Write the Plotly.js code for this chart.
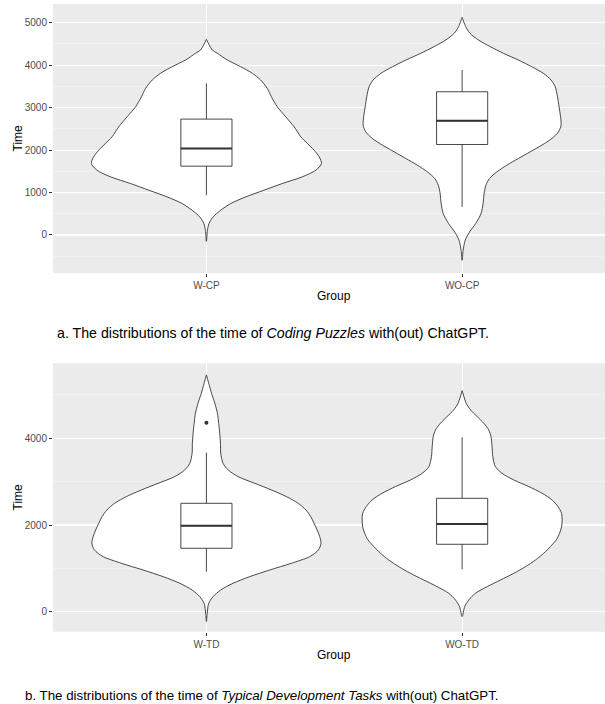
<!DOCTYPE html>
<html>
<head>
<meta charset="utf-8">
<script src="https://cdn.plot.ly/plotly-3.0.1.min.js"></script>
<style>html,body{margin:0;padding:0;background:#fff;}#chart{width:605px;height:704px;}</style>
</head>
<body>
<div id="chart"></div>
<script>
// ---------- DATA ----------
const groupsTop = ["W-CP", "WO-CP"];
const groupsBottom = ["W-TD", "WO-TD"];

// Violin outlines: time values and scaled density (half-width in category units)
const wcpTime = [-150, 111, 268, 425, 583, 740, 897, 1054, 1212, 1369, 1526, 1683, 1840, 1998, 2155, 2312, 2548, 2784, 3020, 3255, 3452, 3649, 3806, 3963, 4120, 4278, 4356, 4608];
const wcpDensity = [0, 0.004, 0.010, 0.026, 0.056, 0.095, 0.154, 0.225, 0.297, 0.375, 0.428, 0.450, 0.441, 0.421, 0.395, 0.369, 0.343, 0.310, 0.277, 0.254, 0.238, 0.212, 0.180, 0.134, 0.082, 0.043, 0.023, 0];

const wocpTime = [-597, -361, -125, 71, 268, 504, 740, 976, 1172, 1329, 1487, 1644, 1801, 1958, 2116, 2273, 2430, 2587, 2784, 3020, 3255, 3491, 3649, 3806, 3963, 4120, 4278, 4435, 4592, 4749, 4906, 5127];
const wocpDensity = [0, 0.004, 0.012, 0.029, 0.053, 0.074, 0.082, 0.086, 0.093, 0.107, 0.136, 0.175, 0.220, 0.266, 0.312, 0.351, 0.377, 0.387, 0.385, 0.379, 0.373, 0.364, 0.348, 0.318, 0.272, 0.220, 0.162, 0.110, 0.064, 0.031, 0.014, 0];

const wtdTime = [-230, -38, 193, 347, 501, 655, 808, 962, 1116, 1270, 1424, 1578, 1732, 1886, 2039, 2193, 2347, 2501, 2655, 2809, 2962, 3116, 3270, 3424, 3655, 3886, 4117, 4347, 4578, 4809, 5040, 5270, 5463];
const wtdDensity = [0, 0.003, 0.009, 0.026, 0.056, 0.104, 0.169, 0.248, 0.332, 0.404, 0.438, 0.448, 0.443, 0.433, 0.421, 0.408, 0.389, 0.359, 0.313, 0.254, 0.189, 0.124, 0.085, 0.065, 0.056, 0.055, 0.052, 0.048, 0.043, 0.033, 0.020, 0.009, 0];

const wotdTime = [-115, 116, 270, 424, 578, 731, 885, 1039, 1193, 1347, 1501, 1655, 1808, 1962, 2116, 2270, 2424, 2578, 2732, 2886, 3039, 3193, 3347, 3578, 3809, 4040, 4193, 4347, 4501, 4655, 4808, 5100];
const wotdDensity = [0, 0.010, 0.026, 0.052, 0.098, 0.150, 0.202, 0.248, 0.287, 0.319, 0.345, 0.368, 0.381, 0.389, 0.391, 0.389, 0.375, 0.352, 0.313, 0.261, 0.202, 0.156, 0.130, 0.120, 0.117, 0.113, 0.104, 0.085, 0.059, 0.033, 0.016, 0];

// Box plot statistics [group1, group2]
const topLower = [936, 661];
const topQ1 = [1620, 2131];
const topMedian = [2037, 2689];
const topQ3 = [2729, 3373];
const topUpper = [3570, 3884];

const bottomLower = [923, 978];
const bottomQ1 = [1463, 1555];
const bottomMedian = [1985, 2024];
const bottomQ3 = [2501, 2616];
const bottomUpper = [3670, 4025];

const bottomOutlierGroup = [1];
const bottomOutlierTime = [4362];

// Tick values
const topTicks = [0, 1000, 2000, 3000, 4000, 5000];
const bottomTicks = [0, 2000, 4000];

const captionA = "a. The distributions of the time of <i>Coding Puzzles</i> with(out) ChatGPT.";
const captionB = "b. The distributions of the time of <i>Typical Development Tasks</i> with(out) ChatGPT.";

// ---------- STYLE ----------
const W = 605, H = 704;
const FONT = "Liberation Sans, Arial, sans-serif";
const LINE = "#333333";
const BOXW = 0.2;

function violin(pos, times, dens, xa, ya) {
  const xs = [], ys = [];
  for (let i = 0; i < times.length; i++) { xs.push(pos + dens[i]); ys.push(times[i]); }
  for (let i = times.length - 1; i >= 0; i--) { xs.push(pos - dens[i]); ys.push(times[i]); }
  return {type: "scatter", mode: "lines", x: xs, y: ys, xaxis: xa, yaxis: ya,
    fill: "toself", fillcolor: "#ffffff",
    line: {color: LINE, width: 0.9, shape: "spline", smoothing: 0.8},
    hoverinfo: "skip", showlegend: false};
}

function boxes(lower, q1, med, q3, upper, xa, ya) {
  const out = [];
  for (let i = 0; i < med.length; i++) {
    const pos = i + 1;
    out.push({type: "box", orientation: "v", x: [pos], q1: [q1[i]], median: [med[i]], q3: [q3[i]],
      lowerfence: [lower[i]], upperfence: [upper[i]], width: BOXW, whiskerwidth: 0,
      fillcolor: "#ffffff", line: {color: LINE, width: 0.9}, boxpoints: false,
      xaxis: xa, yaxis: ya, hoverinfo: "skip", showlegend: false});
    out.push({type: "scatter", mode: "lines", x: [pos - BOXW / 2, pos + BOXW / 2], y: [med[i], med[i]],
      line: {color: LINE, width: 2}, xaxis: xa, yaxis: ya, hoverinfo: "skip", showlegend: false});
  }
  return out;
}

const traces = [
  violin(1, wcpTime, wcpDensity, "x", "y"),
  violin(2, wocpTime, wocpDensity, "x", "y"),
  violin(1, wtdTime, wtdDensity, "x2", "y2"),
  violin(2, wotdTime, wotdDensity, "x2", "y2"),
  // boxes on overlay axes so they are drawn above the violins
  ...boxes(topLower, topQ1, topMedian, topQ3, topUpper, "x3", "y3"),
  ...boxes(bottomLower, bottomQ1, bottomMedian, bottomQ3, bottomUpper, "x4", "y4"),
  {type: "scatter", mode: "markers", x: bottomOutlierGroup, y: bottomOutlierTime, xaxis: "x4", yaxis: "y4",
    marker: {color: LINE, size: 4}, hoverinfo: "skip", showlegend: false}
];

const px = v => v / W, py = v => 1 - v / H;
const unit = 255.7;               // px per category
const xLeft = 53.0;
const xRange = [0.4, 0.4 + (W - xLeft) / unit];
const yRangeTop = [-896, 5440];
const yRangeBottom = [-462, 5731];

function xaxisDef(groups, anchor) {
  return {domain: [px(xLeft), 1], range: xRange, anchor: anchor,
    tickvals: [1, 2], ticktext: groups, showgrid: true, gridcolor: "#ffffff", gridwidth: 1.1,
    zeroline: false, showline: false, ticks: "outside", ticklen: 3, tickwidth: 1, tickcolor: LINE,
    tickfont: {family: FONT, size: 10, color: "#4D4D4D"}, fixedrange: true};
}
function yaxisDef(domain, range, ticks, minor, anchor) {
  return {domain: domain, range: range, anchor: anchor, tickmode: "array", tickvals: ticks,
    showgrid: true, gridcolor: "#ffffff", gridwidth: 1.1, zeroline: false, showline: false,
    ticks: "outside", ticklen: 3, tickwidth: 1, tickcolor: LINE,
    tickfont: {family: FONT, size: 10, color: "#4D4D4D"},
    minor: {dtick: minor, tick0: 0, showgrid: true, gridcolor: "#f7f7f7", gridwidth: 0.6, ticks: ""},
    fixedrange: true};
}
function overlayAxis(base, range, anchor) {
  return {overlaying: base, range: range, anchor: anchor, visible: false, showgrid: false,
    zeroline: false, fixedrange: true};
}

const layout = {
  width: W, height: H, margin: {l: 0, r: 0, t: 0, b: 0},
  paper_bgcolor: "#ffffff", plot_bgcolor: "#EBEBEB", showlegend: false,
  font: {family: FONT},
  boxmode: "overlay",
  xaxis: xaxisDef(groupsTop, "y"),
  yaxis: yaxisDef([py(273), py(4)], yRangeTop, topTicks, 500, "x"),
  xaxis2: xaxisDef(groupsBottom, "y2"),
  yaxis2: yaxisDef([py(631.7), py(363.3)], yRangeBottom, bottomTicks, 1000, "x2"),
  xaxis3: overlayAxis("x", xRange, "y3"),
  yaxis3: overlayAxis("y", yRangeTop, "x3"),
  xaxis4: overlayAxis("x2", xRange, "y4"),
  yaxis4: overlayAxis("y2", yRangeBottom, "x4"),
  annotations: [
    {text: "Time", textangle: -90, xref: "paper", yref: "paper", x: px(17), y: py(138.5), showarrow: false,
      xanchor: "center", yanchor: "middle", font: {family: FONT, size: 12, color: "#000"}},
    {text: "Group", xref: "paper", yref: "paper", x: px(334), y: py(296), showarrow: false,
      xanchor: "center", yanchor: "middle", font: {family: FONT, size: 12, color: "#000"}},
    {text: "Time", textangle: -90, xref: "paper", yref: "paper", x: px(17), y: py(497.5), showarrow: false,
      xanchor: "center", yanchor: "middle", font: {family: FONT, size: 12, color: "#000"}},
    {text: "Group", xref: "paper", yref: "paper", x: px(334), y: py(655), showarrow: false,
      xanchor: "center", yanchor: "middle", font: {family: FONT, size: 12, color: "#000"}},
    {text: captionA, xref: "paper", yref: "paper", x: px(55), y: py(333), showarrow: false,
      xanchor: "left", yanchor: "middle", font: {family: FONT, size: 14.2, color: "#000"}},
    {text: captionB, xref: "paper", yref: "paper", x: px(23), y: py(695), showarrow: false,
      xanchor: "left", yanchor: "middle", font: {family: FONT, size: 13.3, color: "#000"}}
  ]
};

Plotly.newPlot("chart", traces, layout, {displayModeBar: false, staticPlot: true});
</script>
</body>
</html>
